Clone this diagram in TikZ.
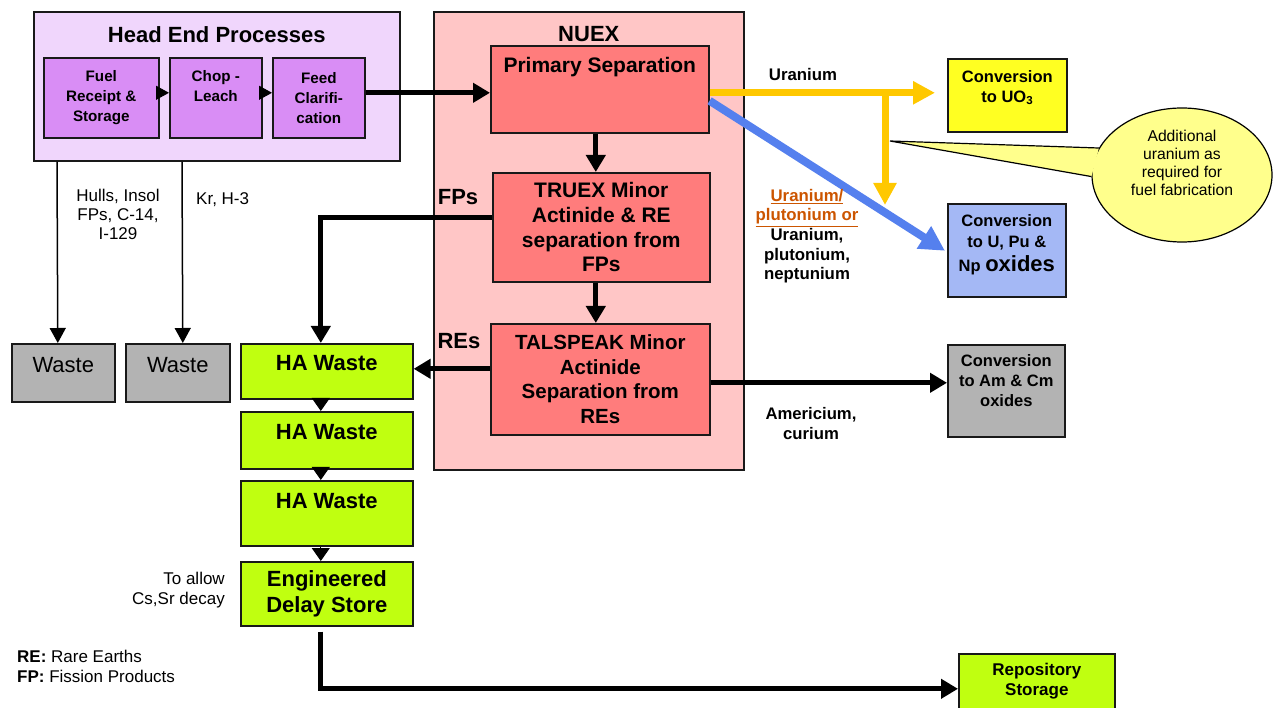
\documentclass[tikz,border=0pt]{standalone}
\usepackage{fontspec}
\setmainfont{Liberation Sans}
\usetikzlibrary{arrows.meta,shapes.geometric}
\definecolor{helite}{HTML}{F0D6FC}
\definecolor{hedark}{HTML}{D98DF5}
\definecolor{nuexbg}{HTML}{FFC6C6}
\definecolor{sepred}{HTML}{FF7C7C}
\definecolor{uoyel}{HTML}{FFFF22}
\definecolor{upblue}{HTML}{A4B8F5}
\definecolor{wgray}{HTML}{B3B3B3}
\definecolor{hagreen}{HTML}{C0FF10}
\definecolor{arryel}{HTML}{FFC800}
\definecolor{arrblue}{HTML}{5580EE}
\definecolor{callyel}{HTML}{FFFF8C}
\definecolor{lblorange}{HTML}{CC5500}
\begin{document}
\begin{tikzpicture}[x=1pt,y=-1pt,
  box/.style={draw=black!90, line width=1.6pt, anchor=north west, inner sep=0pt, align=center},
  lblt/.style={anchor=north, inner sep=0pt, align=center},
  bigarrow/.style={line width=5pt, -{Triangle[width=19pt,length=17pt]}},
  thinarrow/.style={line width=1.5pt, -{Triangle[width=16pt,length=15pt]}},
  smalltri/.style={line width=1pt, -{Triangle[width=18pt,length=13pt]}},
  headtri/.style={line width=1pt, -{Triangle[width=14pt,length=13pt]}},
  yarrow/.style={draw=arryel, line width=7pt, -{Triangle[width=22pt,length=22pt]}},
  barrow/.style={draw=arrblue, line width=8pt, -{Triangle[width=25pt,length=25pt]}},
  txt/.style={inner sep=0pt, align=center}]
\useasboundingbox (0,0) rectangle (1275,708);
\fill[white] (0,0) rectangle (1275,708);

% ---------- Head end ----------
\node[box, fill=helite, minimum width=366pt, minimum height=149pt,
  label={[lblt,font=\fontsize{22}{26}\selectfont\bfseries,yshift=-15pt]north:Head End Processes}] (he) at (33,11) {};
\node[box, fill=hedark, minimum width=115pt, minimum height=80pt,
  font=\fontsize{15.2}{20}\selectfont\bfseries] (fuel) at (43,57) {Fuel\\Receipt \&\\Storage};
\node[box, fill=hedark, minimum width=92pt, minimum height=80pt,
  label={[lblt,font=\fontsize{15.2}{20}\selectfont\bfseries,yshift=-13.6pt]north:{Chop -\\Leach}}] (chop) at (169,57) {};
\node[box, fill=hedark, minimum width=92pt, minimum height=80pt,
  font=\fontsize{15.2}{20}\selectfont\bfseries] (feed) at (272,57) {Feed\\Clarifi-\\cation};
\draw[headtri] ([xshift=-3pt,yshift=5pt]fuel.east) -- ([yshift=5pt]chop.west);
\draw[headtri] ([xshift=-3pt,yshift=5pt]chop.east) -- ([yshift=5pt]feed.west);

% ---------- NUEX ----------
\node[box, fill=nuexbg, minimum width=310pt, minimum height=458pt,
  label={[lblt,font=\fontsize{22}{26}\selectfont\bfseries,yshift=-15pt]north:NUEX}] (nuex) at (433,11) {};
\node[box, fill=sepred, minimum width=218pt, minimum height=87pt,
  label={[lblt,font=\fontsize{21}{25}\selectfont\bfseries,yshift=-12.5pt]north:Primary Separation}] (prim) at (490,45) {};
\node[box, fill=sepred, minimum width=217pt, minimum height=109pt,
  font=\fontsize{21}{24.7}\selectfont\bfseries] (truex) at (492,172) {TRUEX Minor\\Actinide \& RE\\separation from\\FPs};
\node[box, fill=sepred, minimum width=219pt, minimum height=111pt,
  font=\fontsize{20.5}{24.7}\selectfont\bfseries] (tals) at (490,323) {TALSPEAK Minor\\Actinide\\Separation from\\REs};

% ---------- Conversion boxes ----------
\node[box, fill=uoyel, minimum width=119pt, minimum height=73pt,
  label={[lblt,font=\fontsize{16.5}{20}\selectfont\bfseries,yshift=-12pt]north:{Conversion\\to UO\textsubscript{3}}}] (uo3) at (947,58) {};
\node[box, fill=upblue, minimum width=118pt, minimum height=93pt,
  label={[lblt,font=\fontsize{16.5}{21}\selectfont\bfseries,yshift=-11pt]north:{Conversion\\to U, Pu \&\\[3.5pt]Np {\fontsize{22}{26}\selectfont oxides}}}] (upn) at (947,203) {};
\node[box, fill=wgray, minimum width=117pt, minimum height=92pt,
  label={[lblt,font=\fontsize{16.5}{20}\selectfont\bfseries,yshift=-10pt]north:{Conversion\\to Am \& Cm\\oxides}}] (amcm) at (947,344) {};

% ---------- Waste boxes ----------
\node[box, fill=wgray, minimum width=103pt, minimum height=58pt,
  label={[lblt,font=\fontsize{22}{26}\selectfont,yshift=-14pt]north:Waste}] (w1) at (11,343) {};
\node[box, fill=wgray, minimum width=104pt, minimum height=58pt,
  label={[lblt,font=\fontsize{22}{26}\selectfont,yshift=-14pt]north:Waste}] (w2) at (125,343) {};
\node[box, fill=hagreen, minimum width=172pt, minimum height=55pt,
  label={[lblt,font=\fontsize{22}{26}\selectfont\bfseries,yshift=-12pt]north:HA Waste}] (ha1) at (240,343) {};
\node[box, fill=hagreen, minimum width=172pt, minimum height=57pt,
  label={[lblt,font=\fontsize{22}{26}\selectfont\bfseries,yshift=-13pt]north:HA Waste}] (ha2) at (240,411) {};
\node[box, fill=hagreen, minimum width=172pt, minimum height=65pt,
  label={[lblt,font=\fontsize{22}{26}\selectfont\bfseries,yshift=-13pt]north:HA Waste}] (ha3) at (240,480) {};
\node[box, fill=hagreen, minimum width=172pt, minimum height=64pt,
  font=\fontsize{22}{26}\selectfont\bfseries] (eds) at (240,561) {Engineered\\Delay Store};
\node[box, fill=hagreen, minimum width=156pt, minimum height=62pt,
  label={[lblt,font=\fontsize{17}{20}\selectfont\bfseries,yshift=-10pt]north:{Repository\\Storage}}] (repo) at (958,653) {};

% ---------- Black connectors ----------
\draw[bigarrow] ([yshift=5pt]feed.east) -- ([yshift=-3.5pt]prim.west);
\draw[bigarrow] ([xshift=-4pt]prim.south) -- ([xshift=-5.5pt]truex.north);
\draw[bigarrow] ([xshift=-5.5pt]truex.south) -- ([xshift=-4.5pt]tals.north);
\draw[bigarrow] ([yshift=9.5pt]truex.west) -| ([xshift=-6pt]ha1.north);
\draw[bigarrow] ([yshift=10.5pt]tals.west) -- ([yshift=2.5pt]ha1.east);
\draw[bigarrow] ([yshift=-3.5pt]tals.east) -- ([yshift=8pt]amcm.west);
\draw[bigarrow] ([xshift=-6pt,yshift=-5pt]eds.south) |- ([yshift=-4pt]repo.west);
\draw[smalltri] ([xshift=-6pt]ha1.south) -- ([xshift=-6pt]ha2.north);
\draw[smalltri] ([xshift=-6pt]ha2.south) -- ([xshift=-6pt]ha3.north);
\draw[smalltri] ([xshift=-6pt]ha3.south) -- ([xshift=-6pt]eds.north);
\draw[thinarrow] ([xshift=24pt]he.south west) -- ([xshift=-5.5pt]w1.north);
\draw[thinarrow] ([xshift=149pt]he.south west) -- ([xshift=5pt]w2.north);

% ---------- Coloured connectors ----------
\coordinate (ybr) at (885,92);
\coordinate (ybrend) at (885,205);
\draw[yarrow] ([yshift=-3.5pt]prim.east) -- ([xshift=-12pt,yshift=2.5pt]uo3.west);
\draw[yarrow] (ybr) -- (ybrend);
\draw[barrow] ([yshift=-11.5pt]prim.east) -- ([xshift=-2pt,yshift=-0.5pt]upn.west);

% ---------- Callout ----------
\node[ellipse, draw=black, line width=1.2pt, fill=callyel, minimum width=180pt, minimum height=134pt,
  inner sep=0pt, align=center, font=\fontsize{15.7}{18.3}\selectfont] (call) at (1182,175)
  {Additional\\uranium as\\required for\\fuel fabrication\\[6pt]};
\coordinate (ptip) at (890,141);
\fill[callyel] (ptip) -- (call.162) -- (call.181) -- cycle;
\draw[line width=1.2pt] (call.162) -- (ptip) -- (call.181);

% ---------- Labels ----------
\node[txt, font=\fontsize{16.8}{20}\selectfont\bfseries] (lu) at (803,74) {Uranium};
\node[txt, anchor=north, font=\fontsize{22}{26}\selectfont\bfseries] (lfp) at (458,189) {FPs};
\node[txt, anchor=north, font=\fontsize{22}{26}\selectfont\bfseries] (lre) at (459,333) {REs};
\node[txt, anchor=north, font=\fontsize{16.8}{19.6}\selectfont\bfseries] (lupu) at (807,189)
  {\textcolor{lblorange}{\underline{Uranium/}}\\\textcolor{lblorange}{\underline{plutonium or}}\\Uranium,\\plutonium,\\neptunium};
\node[txt, anchor=north, font=\fontsize{16.7}{20}\selectfont\bfseries] (lam) at (811,407) {Americium,\\curium};
\node[txt, anchor=north, font=\fontsize{17}{19}\selectfont] (lhull) at (118,189) {Hulls, Insol\\FPs, C-14,\\I-129};
\node[txt, anchor=north west, font=\fontsize{17}{19}\selectfont] (lkr) at (196,192) {Kr, H-3};
\node[txt, anchor=north east, align=right, font=\fontsize{17}{20}\selectfont] (lallow) at (225,572) {To allow\\Cs,Sr decay};
\node[txt, anchor=north west, align=left, font=\fontsize{17}{20}\selectfont] (leg) at (17,650)
  {\textbf{RE:} Rare Earths\\\textbf{FP:} Fission Products};
\end{tikzpicture}
\end{document}
